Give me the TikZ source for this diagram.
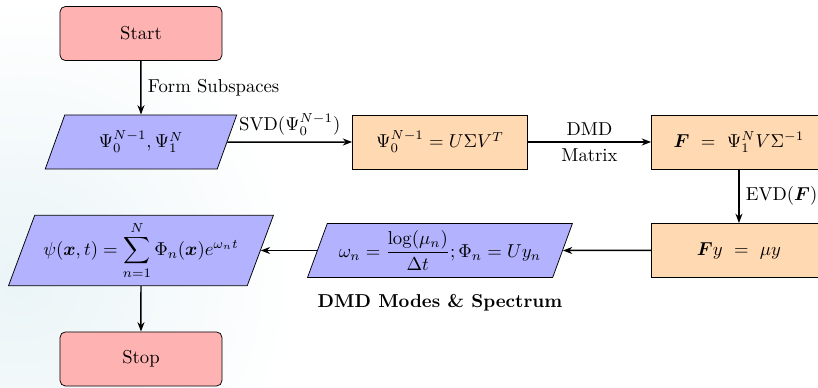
\documentclass[tikz,border=0pt]{standalone}
\usepackage{amsmath}
\usepackage{amsfonts}
\usepackage{amssymb}
\usepackage{tikz}
\usetikzlibrary{shapes.geometric,arrows.meta,positioning}

\definecolor{haze}{RGB}{234,244,247}

\tikzset{
  startstop/.style={rectangle, rounded corners=3pt, minimum width=86.7pt, minimum height=29pt, draw=black, fill=red!30},
  io/.style={trapezium, trapezium left angle=70, trapezium right angle=110, trapezium stretches=true, minimum width=103pt, minimum height=29pt, draw=black, fill=blue!30},
  process/.style={rectangle, minimum width=93.6pt, minimum height=29pt, draw=black, fill=orange!30},
  arrow/.style={thick, -{Stealth[length=5pt]}}
}

\begin{document}
\begin{tikzpicture}
  \useasboundingbox (-2.651,0.630) rectangle (12.730,-6.647);
  \shade[inner color=haze, outer color=white] (-2.3,-4.6) circle (5.2);

  \node[startstop] (start) at (0,0) {Start};
  \node[io] (data) at (0,-2.04) {$\Psi_0^{N-1}, \Psi_1^N$};
  \node[process] (svd) at (5.622,-2.04) {$\Psi_0^{N-1} = U\Sigma V^T$};
  \node[process] (dmd) at (11.244,-2.04) {$\boldsymbol{F}\ =\ \Psi_1^N V\Sigma^{-1}$};
  \node[process] (evd) at (11.244,-4.08) {$\boldsymbol{F}y\ =\ \mu y$};
  \node[io, minimum width=142pt] (modes) at (5.622,-4.08) {$\omega_n = \dfrac{\log(\mu_n)}{\Delta t}; \Phi_n = U y_n$};
  \node[io, minimum width=142pt] (recon) at (0,-4.08) {$\psi(\boldsymbol{x},t) = \displaystyle\sum_{n=1}^{N} \Phi_n(\boldsymbol{x}) e^{\omega_n t}$};
  \node[startstop] (stop) at (0,-6.12) {Stop};
  \node[below=5pt of modes] (modeslabel) {\textbf{DMD Modes \& Spectrum}};

  \draw[arrow] (start) -- node[right] {Form Subspaces} (data);
  \draw[arrow] (data) -- node[above] {SVD$(\Psi_0^{N-1})$} (svd);
  \draw[arrow] (svd) -- node[above] {DMD} node[below] {Matrix} (dmd);
  \draw[arrow] (dmd) -- node[right] {EVD$(\boldsymbol{F})$} (evd);
  \draw[arrow] (evd) -- (modes);
  \draw[arrow] (modes) -- (recon);
  \draw[arrow] (recon) -- (stop);
\end{tikzpicture}
\end{document}
